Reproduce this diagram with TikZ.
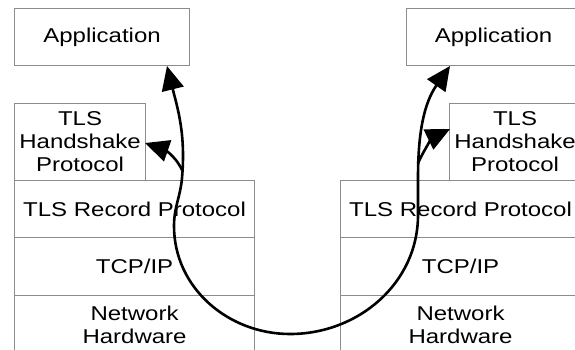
\documentclass[tikz,border=0pt]{standalone}
\usepackage{fontspec}
\setmainfont[FakeStretch=1.2]{Liberation Sans}
\usetikzlibrary{arrows.meta}
\begin{document}
\begin{tikzpicture}[x=1pt,y=-1pt,
  layer/.style={draw=black!45, line width=1.1pt, rectangle, anchor=north west,
    inner sep=0pt, align=center, font=\fontsize{20}{23}\selectfont},
  flow/.style={line width=2.6pt, black},
  tip/.style={-{Triangle[length=24pt,width=22pt]}},
  tips/.style={{Triangle[length=24pt,width=22pt]}-{Triangle[length=24pt,width=22pt]}}]
\useasboundingbox (0,0) rectangle (575,349);
\clip (0,0) rectangle (575,349);
% left stack
\node[layer, minimum width=175pt, minimum height=57pt] (lapp) at (14,8) {Application};
\node[layer, minimum width=131pt, minimum height=77pt] (lhs) at (14,103) {TLS\\Handshake\\Protocol};
\node[layer, minimum width=240pt, minimum height=57pt] (lrec) at (14,180) {TLS Record Protocol};
\node[layer, minimum width=240pt, minimum height=58pt] (ltcp) at (14,237) {TCP/IP};
\node[layer, minimum width=240pt, minimum height=58pt] (lnet) at (14,295) {Network\\Hardware};
% right stack
\node[layer, minimum width=174pt, minimum height=57pt] (rapp) at (406,8) {Application};
\node[layer, minimum width=131pt, minimum height=77pt] (rhs) at (449,103) {TLS\\Handshake\\Protocol};
\node[layer, minimum width=240pt, minimum height=57pt] (rrec) at (340,180) {TLS Record Protocol};
\node[layer, minimum width=240pt, minimum height=58pt] (rtcp) at (340,237) {TCP/IP};
\node[layer, minimum width=240pt, minimum height=58pt] (rnet) at (340,295) {Network\\Hardware};
% connector points
\coordinate (a1) at (167,66);
\coordinate (j1) at (182,178);
\coordinate (b1) at (182,170);
\coordinate (h1) at (145,143);
\coordinate (m1) at (174,226);
\coordinate (bot) at (290,334);
\coordinate (m2) at (418,215);
\coordinate (j2) at (418,178);
\coordinate (b2) at (418,163);
\coordinate (h2) at (450,129);
\coordinate (a2) at (450,66);
% main path
\draw[flow, tips] (a1) to[out=-76,in=85] (j1) to[out=-95,in=90] (m1)
  to[out=-90,in=180] (bot) to[out=0,in=-90] (m2) -- (j2) to[out=90,in=235] (a2);
% branches to handshake
\draw[flow, tip] (b1) to[out=115,in=-19] (h1);
\draw[flow, tip] (b2) to[out=65,in=206] (h2);
\end{tikzpicture}
\end{document}
